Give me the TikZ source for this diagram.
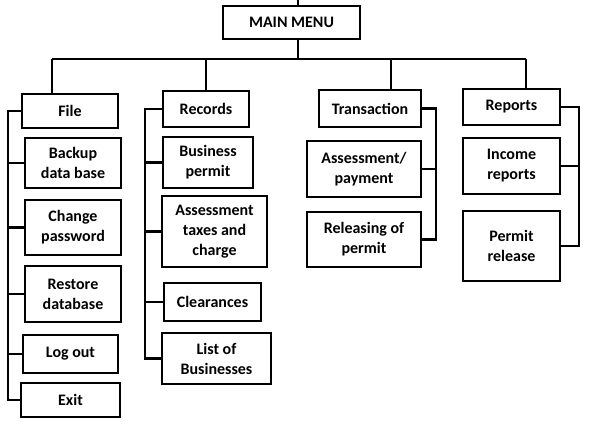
\documentclass[tikz,border=0pt]{standalone}
\usepackage{fontspec}
\setmainfont{Carlito}
\usetikzlibrary{calc}

\begin{document}
\begin{tikzpicture}[x=1pt,y=-1pt,
		box/.style 2 args={draw,line width=2.6pt,minimum width=#1,minimum height=#2,
			inner sep=0pt,align=center,font=\fontsize{16}{20}\selectfont\bfseries},
		link/.style={line width=2.6pt}]
	
	\useasboundingbox (0,0) rectangle (590,424);
	
	%main menu
	\node[box={137}{33}] (main) at (291.5,22.5) {MAIN MENU};
	
	%top row
	\node[box={96}{34}] (file) at (70,111) {File};
	\node[box={86}{36}] (records) at (206,109) {Records};
	\node[box={102}{37}] (transaction) at (370,108.5) {Transaction};
	\node[box={97}{36}] (reports) at (511.5,107) {Reports};
	
	%file
	\node[box={96}{50}] (backup) at (73,163) {Backup\\data base};
	\node[box={96}{55}] (change) at (73,227.5) {Change\\password};
	\node[box={96}{56}] (restore) at (73,294) {Restore\\database};
	\node[box={95}{38}] (logout) at (70.5,354) {Log out};
	\node[box={99}{34}] (exit) at (70.5,400) {Exit};
	
	%records
	\node[box={90}{51}] (bpermit) at (208,162.5) {Business\\permit};
	\node[box={105}{71}] (taxes) at (214.5,231.5) {Assessment\\taxes and\\charge};
	\node[box={97}{38}] (clear) at (212.5,302) {Clearances};
	\node[box={109}{51}] (list) at (216.5,358.5) {List of\\Businesses};
	
	%transaction
	\node[box={114}{56}] (payment) at (364,169) {Assessment/\\payment};
	\node[box={114}{55}] (releasing) at (364,239.5) {Releasing of\\permit};
	
	%reports
	\node[box={97}{56}] (income) at (511.5,166) {Income\\reports};
	\node[box={97}{70}] (prelease) at (511.5,246) {Permit\\release};
	
	%bus
	\coordinate (mtop) at (298,0);
	\coordinate (bus) at (298,59);
	\coordinate (busF) at (52,59);
	\coordinate (busT) at (391,59);
	\coordinate (busR) at (526,59);
	\draw[link] (mtop) -- (mtop |- main.north);
	\draw[link] (main.south -| bus) -- (bus);
	\draw[link] (busF) -- (busR);
	\draw[link] (busF) -- (busF |- file.north);
	\draw[link] (records.north |- bus) -- (records.north);
	\draw[link] (busT) -- (busT |- transaction.north);
	\draw[link] (busR) -- (busR |- reports.north);
	
	%spines
	\coordinate (fspine) at (8,0);
	\coordinate (rspine) at (145,0);
	\coordinate (tspine) at (436,0);
	\coordinate (pspine) at (579,0);
	
	\draw[link] (file.west) -| (fspine |- exit.west) -- (exit.west);
	\foreach \n in {backup,change,restore,logout}
	\draw[link] (\n.west) -- (\n.west -| fspine);
	
	\draw[link] (records.west) -| (rspine |- list.west) -- (list.west);
	\foreach \n in {bpermit,taxes,clear}
	\draw[link] (\n.west) -- (\n.west -| rspine);
	
	\draw[link] (transaction.east) -| (tspine |- releasing.east) -- (releasing.east);
	\draw[link] (payment.east) -- (payment.east -| tspine);
	
	\draw[link] (reports.east) -| (pspine |- prelease.east) -- (prelease.east);
	\draw[link] (income.east) -- (income.east -| pspine);
	
\end{tikzpicture}
\end{document}
